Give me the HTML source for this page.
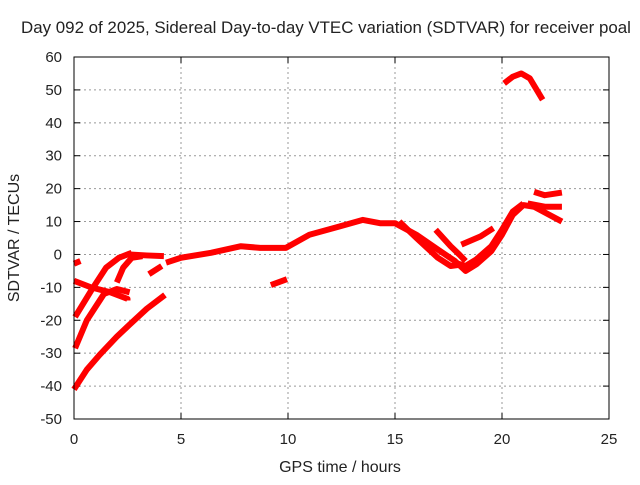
<!DOCTYPE html>
<html><head><meta charset="utf-8"><style>
html,body{margin:0;padding:0;background:#fff}
svg text{font-family:"Liberation Sans",sans-serif;font-size:15px;fill:#222}
</style></head><body>
<svg id="c" width="640" height="480" xmlns="http://www.w3.org/2000/svg">
<text x="326" y="33" text-anchor="middle" style="font-size:16.9px">Day 092 of 2025, Sidereal Day-to-day VTEC variation (SDTVAR) for receiver poal</text>
<text x="340" y="472" text-anchor="middle" style="font-size:16px">GPS time / hours</text>
<text transform="translate(19,238) rotate(-90)" text-anchor="middle" style="font-size:16px">SDTVAR / TECUs</text>
<g id="grid"></g><g id="ticks"></g><g id="series"></g>
<rect x="74" y="57" width="535" height="362" fill="none" stroke="#000" stroke-width="1"/>
</svg>
<script>
const xTicks=[0,5,10,15,20,25];
const yTicks=[-50,-40,-30,-20,-10,0,10,20,30,40,50,60];
const seg1=[[0,-41],[0.6,-35],[1.2,-30.5],[2,-25],[2.6,-21.3],[3.4,-16.5],[4.25,-12.3]];
const seg2=[[0.05,-28.5],[0.6,-20],[1.4,-12],[2,-10.5],[2.6,-11.5]];
const seg3=[[0,-8],[0.8,-10],[1.7,-11.5],[2.5,-13.5],[2.5,-14]];
const seg4=[[0.05,-19],[0.8,-11],[1.5,-4],[2.1,-1],[2.7,0.5]];
const seg5=[[2,-8.5],[2.3,-4],[2.7,-1],[3.2,-0.5]];
const seg6=[[2.6,0],[3.4,-0.3],[4.2,-0.5]];
const seg7=[[3.5,-6],[4.1,-3.5]];
const seg8=[[0,-2.8],[0.3,-2]];
const seg9=[[4.3,-2.5],[5,-1],[6.4,0.5],[7.8,2.5],[8.7,2],[9.9,2],[11,6],[12.4,8.5],[13.5,10.5],[14.3,9.5],[15,9.5],[16,6],[17,1.5],[17.8,-2],[18.3,-5],[18.8,-3],[19.5,1],[20,6],[20.5,12],[21,15],[21.5,14.5],[22.8,10]];
const seg9b=[[17.8,-2.5],[18.3,-3.5],[18.8,-1.5],[19.5,2.5],[20,7.5],[20.5,13],[21,15.5]];
const seg10=[[15.2,10],[16,5],[17,-1],[17.6,-3.5],[18.2,-3]];
const seg11=[[16.9,7.5],[17.6,2.5],[18,0],[18.3,-2]];
const seg12=[[18.1,3],[19,5.5],[19.6,8]];
const seg13=[[20.1,52],[20.5,54],[20.9,55],[21.3,53.5],[21.9,47]];
const seg14=[[21.5,19],[22,18],[22.8,18.8]];
const seg15=[[21.2,15.5],[22,14.5],[22.8,14.5]];
const seg16=[[9.2,-9.3],[9.95,-7.5]];
const allSeries=[seg1,seg2,seg3,seg4,seg5,seg6,seg7,seg8,seg9,seg9b,seg10,seg11,seg12,seg13,seg14,seg15,seg16];
const X0=74,X1=609,Y0=419,Y1=57;
function sx(v){return X0+(v-0)/(25-0)*(X1-X0);}
function sy(v){return Y0-(v+50)/110*(Y0-Y1);}
const NS="http://www.w3.org/2000/svg";
function mk(t,a,p){const e=document.createElementNS(NS,t);for(const k in a)e.setAttribute(k,a[k]);p.appendChild(e);return e;}
const grid=document.getElementById('grid'),ticks=document.getElementById('ticks'),ser=document.getElementById('series');
xTicks.forEach(v=>{const x=sx(v);
 if(v>0&&v<25){const g=mk('line',{x1:x,x2:x,y1:Y1,y2:Y0,stroke:'#999','stroke-dasharray':'2,3'},grid);
 
 }
 mk('line',{x1:x,x2:x,y1:Y0,y2:Y0-6,stroke:'#000'},ticks);
 mk('line',{x1:x,x2:x,y1:Y1,y2:Y1+6,stroke:'#000'},ticks);
 const t=mk('text',{x:x,y:Y0+25,'text-anchor':'middle'},ticks);t.textContent=v;
 
 
});
yTicks.forEach(v=>{const y=sy(v);
 if(v>-50&&v<60){const g=mk('line',{x1:X0,x2:X1,y1:y,y2:y,stroke:'#999','stroke-dasharray':'2,3'},grid);
 
 }
 mk('line',{x1:X0,x2:X0+6,y1:y,y2:y,stroke:'#000'},ticks);
 mk('line',{x1:X1,x2:X1-6,y1:y,y2:y,stroke:'#000'},ticks);
 const t=mk('text',{x:X0-12,y:y+5,'text-anchor':'end'},ticks);t.textContent=v;
 
 
});
allSeries.forEach(s=>{
 const p=mk('polyline',{points:s.map(d=>sx(d[0])+','+sy(d[1])).join(' '),fill:'none',stroke:'#f00','stroke-width':6,'stroke-linejoin':'round'},ser);
 
 
});
</script>
</body></html>
